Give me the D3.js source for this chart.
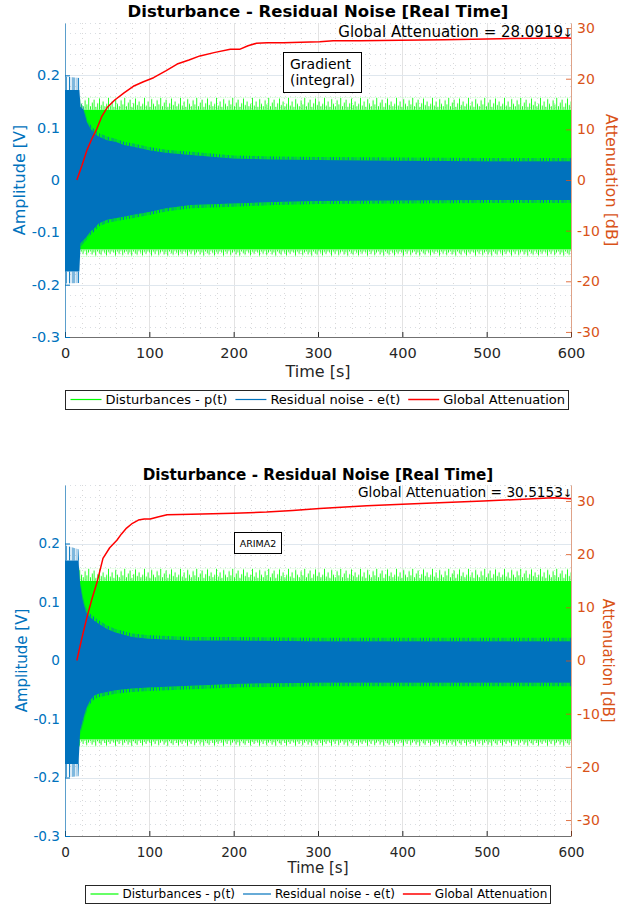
<!DOCTYPE html>
<html><head><meta charset="utf-8">
<script src="https://cdn.jsdelivr.net/npm/d3@7"></script>
<style>body{margin:0;background:#fff} svg{font-family:"DejaVu Sans",sans-serif}</style>
</head><body><svg id="c" width="621" height="909"></svg>
<script>
// ---------- shared labels / ticks ----------
const xTicks=[0,100,200,300,400,500,600];
const xTickLabels=["0","100","200","300","400","500","600"];
const yLeftTicks=[-0.3,-0.2,-0.1,0,0.1,0.2];
const yLeftLabels=["-0.3","-0.2","-0.1","0","0.1","0.2"];
const yRightTicks=[-30,-20,-10,0,10,20,30];
const yRightLabels=["-30","-20","-10","0","10","20","30"];
const seriesNames=["Disturbances - p(t)","Residual noise - e(t)","Global Attenuation"];
const titles=["Disturbance - Residual Noise [Real Time]","Disturbance - Residual Noise [Real Time]"];
const annotations=["Global Attenuation = 28.0919","Global Attenuation = 30.5153"];
const methodLabels=[["Gradient","(integral)"],["ARIMA2"]];
const xLabel="Time [s]", yLeftLabel="Amplitude [V]", yRightLabel="Attenuation [dB]";

// ---------- panel 1 (Gradient) envelopes ----------
const envTime1=[0,17,18.5,22,26,30,35,40,50,60,70,80,100,120,150,200,250,300,400,500,600];
const greenPeakUp1=[0.157,0.157,0.157,0.157,0.157,0.157,0.157,0.157,0.157,0.157,0.157,0.157,0.157,0.157,0.157,0.157,0.157,0.157,0.157,0.157,0.157];
const greenUp1=[0.134,0.134,0.134,0.134,0.134,0.134,0.134,0.134,0.134,0.134,0.134,0.134,0.134,0.134,0.134,0.134,0.134,0.134,0.134,0.134,0.134];
const greenLo1=[-0.133,-0.133,-0.133,-0.133,-0.133,-0.133,-0.133,-0.133,-0.133,-0.133,-0.133,-0.133,-0.133,-0.133,-0.133,-0.133,-0.133,-0.133,-0.133,-0.133,-0.133];
const greenPeakLo1=[-0.146,-0.146,-0.146,-0.146,-0.146,-0.146,-0.146,-0.146,-0.146,-0.146,-0.146,-0.146,-0.146,-0.146,-0.146,-0.146,-0.146,-0.146,-0.146,-0.146,-0.146];
const bluePeakUp1=[0.198,0.195,0.148,0.140,0.118,0.106,0.096,0.090,0.083,0.079,0.073,0.070,0.063,0.058,0.054,0.047,0.045,0.044,0.043,0.042,0.042];
const blueUp1=[0.172,0.172,0.140,0.134,0.111,0.099,0.089,0.083,0.076,0.073,0.067,0.064,0.057,0.052,0.048,0.041,0.039,0.038,0.037,0.036,0.036];
const blueLo1=[-0.175,-0.175,-0.121,-0.115,-0.108,-0.099,-0.092,-0.083,-0.076,-0.073,-0.070,-0.067,-0.061,-0.054,-0.048,-0.045,-0.042,-0.040,-0.039,-0.038,-0.038];
const bluePeakLo1=[-0.198,-0.197,-0.128,-0.121,-0.114,-0.105,-0.098,-0.089,-0.082,-0.079,-0.076,-0.073,-0.067,-0.060,-0.054,-0.051,-0.048,-0.046,-0.045,-0.044,-0.044];
const attTime1=[14,20,26,32,38,43.5,50,59,70,81,93,105,120,133,147,160,178,196,207,217,227,240,259,280,302,318,350,397,450,516,560,595,600];
const att1=[0,2.8,5.9,8.2,10.2,12.5,14.3,15.8,17.2,18.5,19.4,20.2,21.6,22.9,23.7,24.5,25.2,25.8,25.8,26.5,27.0,27.1,27.1,27.2,27.3,27.5,27.5,27.6,27.7,27.9,28.0,28.1,28.0];

// ---------- panel 2 (ARIMA2) envelopes ----------
const envTime2=[0,16,18,21,25,30,35,40,50,60,80,100,150,200,300,400,500,600];
const greenPeakUp2=[0.157,0.157,0.157,0.157,0.157,0.157,0.157,0.157,0.157,0.157,0.157,0.157,0.157,0.157,0.157,0.157,0.157,0.157];
const greenUp2=[0.136,0.136,0.136,0.136,0.136,0.136,0.136,0.136,0.136,0.136,0.136,0.136,0.136,0.136,0.136,0.136,0.136,0.136];
const greenLo2=[-0.135,-0.135,-0.135,-0.135,-0.135,-0.135,-0.135,-0.135,-0.135,-0.135,-0.135,-0.135,-0.135,-0.135,-0.135,-0.135,-0.135,-0.135];
const greenPeakLo2=[-0.147,-0.147,-0.147,-0.147,-0.147,-0.147,-0.147,-0.147,-0.147,-0.147,-0.147,-0.147,-0.147,-0.147,-0.147,-0.147,-0.147,-0.147];
const bluePeakUp2=[0.197,0.190,0.138,0.110,0.090,0.080,0.074,0.069,0.060,0.054,0.046,0.043,0.040,0.040,0.039,0.039,0.039,0.039];
const blueUp2=[0.171,0.171,0.131,0.103,0.083,0.074,0.068,0.063,0.054,0.048,0.040,0.037,0.034,0.034,0.033,0.033,0.033,0.033];
const blueLo2=[-0.177,-0.177,-0.120,-0.103,-0.083,-0.068,-0.060,-0.057,-0.054,-0.051,-0.048,-0.046,-0.043,-0.040,-0.038,-0.038,-0.038,-0.038];
const bluePeakLo2=[-0.200,-0.198,-0.128,-0.110,-0.090,-0.074,-0.066,-0.063,-0.060,-0.057,-0.054,-0.052,-0.049,-0.046,-0.044,-0.044,-0.044,-0.044];
const attTime2=[14,20,26,32,38,45,53,61.5,67,73,80,87,94,101,110,121,150,200,239,270,302,358,400,436,496,555,579,600];
const att2=[0,4.2,8.1,11.6,14.7,19.2,21.2,22.6,23.8,24.9,25.8,26.4,26.6,26.6,27.0,27.4,27.5,27.7,27.9,28.2,28.6,29.1,29.4,29.6,30.0,30.4,30.6,30.4];

// ---------- style ----------
const C_GREEN="#00ff00", C_BLUE="#0072bd", C_RED="#ff0000", C_ORANGE="#d95319", C_AX="#262626";
const spikeProfile=[1,.35,.7,.25,.9,.5,.3,.8,.45,1,.3,.6,.85,.25,.55,.95,.4,.7,.3,.5];
const stripeOpacity=[1,.2,.7,.1,.9,.3,.5,1,.15,.6,.85,.2,.4,.95,.25,.7,.1,.5,.8,.3];

const svg=d3.select("#c");
const defs=svg.append("defs");

const panels=[
 {id:1,top:23,bottom:337,left:65,right:571,rDom:[-31,31],
  env:{t:envTime1,gpu:greenPeakUp1,gu:greenUp1,gl:greenLo1,gpl:greenPeakLo1,bpu:bluePeakUp1,bu:blueUp1,bl:blueLo1,bpl:bluePeakLo1},
  attT:attTime1,att:att1,title:titles[0],anno:annotations[0],method:methodLabels[0],
  f:{tick:14.5,rtick:14,label:16,title:16.5,legend:13,anno:15,method:14},
  titleY:16.7,annoY:36.5,xTickBase:358.3,xLabelY:377.4,yLabX:24.5,yRLabX:606,
  legend:{cx:316.5,cy:399.5,h:19,line:31},
  box:{x:283.5,y:52.5,w:78,h:40,lines:[69,85],tx:290}},
 {id:2,top:485,bottom:836,left:65,right:571,rDom:[-33,33],
  env:{t:envTime2,gpu:greenPeakUp2,gu:greenUp2,gl:greenLo2,gpl:greenPeakLo2,bpu:bluePeakUp2,bu:blueUp2,bl:blueLo2,bpl:bluePeakLo2},
  attT:attTime2,att:att2,title:titles[1],anno:annotations[1],method:methodLabels[1],
  f:{tick:13.6,rtick:14,label:15,title:15.2,legend:12,anno:13.7,method:9.5},
  titleY:480,annoY:497,xTickBase:856.7,xLabelY:872.8,yLabX:27,yRLabX:603,
  legend:{cx:317,cy:894,h:18,line:28},
  box:{x:234.5,y:532.5,w:47,h:21,lines:[546.5],tx:258,center:true}}
];

panels.forEach(P=>{
  const g=svg.append("g");
  const x=d3.scaleLinear().domain([0,600]).range([P.left,P.right]);
  const yL=d3.scaleLinear().domain([-0.3,0.3]).range([P.bottom,P.top]);
  const yR=d3.scaleLinear().domain(P.rDom).range([P.bottom,P.top]);
  const clipId="clip"+P.id;
  defs.append("clipPath").attr("id",clipId).append("rect")
    .attr("x",P.left).attr("y",P.top).attr("width",P.right-P.left).attr("height",P.bottom-P.top);

  // grid
  const grid=g.append("g");
  const minorX=d3.range(0,601,20).filter(v=>v%100!==0);
  const minorY=d3.range(-30,31,2).map(v=>v/100).filter(v=>Math.abs(Math.round(v*100))%10!==0 || v>0.25);
  grid.selectAll(".mx").data(minorX).enter().append("line")
    .attr("x1",d=>Math.round(x(d))+0.5).attr("x2",d=>Math.round(x(d))+0.5).attr("y1",P.top).attr("y2",P.bottom)
    .attr("stroke","#d8d8d8").attr("stroke-dasharray","1,4").attr("stroke-width",1);
  grid.selectAll(".my").data(minorY).enter().append("line")
    .attr("y1",d=>Math.round(yL(d))+0.5).attr("y2",d=>Math.round(yL(d))+0.5).attr("x1",P.left).attr("x2",P.right)
    .attr("stroke","#d8dde2").attr("stroke-dasharray","1,4").attr("stroke-width",1);
  grid.selectAll(".Mx").data(xTicks).enter().append("line")
    .attr("x1",d=>Math.round(x(d))+0.5).attr("x2",d=>Math.round(x(d))+0.5).attr("y1",P.top).attr("y2",P.bottom)
    .attr("stroke","#e3e3e3").attr("stroke-width",1);
  grid.selectAll(".My").data(yLeftTicks).enter().append("line")
    .attr("y1",d=>Math.round(yL(d))+0.5).attr("y2",d=>Math.round(yL(d))+0.5).attr("x1",P.left).attr("x2",P.right)
    .attr("stroke","#dfe7ee").attr("stroke-width",1);

  // data
  const E=P.env;
  const rows=E.t.map((t,i)=>({t,gpu:E.gpu[i],gu:E.gu[i],gl:E.gl[i],gpl:E.gpl[i],bpu:E.bpu[i],bu:E.bu[i],bl:E.bl[i],bpl:E.bpl[i]}));
  const area=(a,b)=>d3.area().x(d=>x(d.t)).y0(d=>yL(d[a])).y1(d=>yL(d[b]));
  const dg=g.append("g").attr("clip-path",`url(#${clipId})`);

  // spike patterns for green fringes
  const fUp=yL(E.gu[0])-yL(E.gpu[0]);
  const fLo=yL(E.gpl[0])-yL(E.gl[0]);
  const tileW=spikeProfile.length*1.8;
  const pu=defs.append("pattern").attr("id","gpu"+P.id).attr("patternUnits","userSpaceOnUse")
    .attr("x",0).attr("y",yL(E.gpu[0])).attr("width",tileW).attr("height",fUp);
  spikeProfile.forEach((f,i)=>pu.append("rect").attr("x",i*1.8).attr("width",1).attr("y",fUp*(1-f)).attr("height",fUp*f).attr("fill",C_GREEN).attr("opacity",0.85));
  const pl=defs.append("pattern").attr("id","gpl"+P.id).attr("patternUnits","userSpaceOnUse")
    .attr("x",7).attr("y",yL(E.gl[0])).attr("width",tileW).attr("height",fLo);
  spikeProfile.forEach((f,i)=>pl.append("rect").attr("x",i*1.8).attr("width",1).attr("y",0).attr("height",fLo*f*0.9).attr("fill",C_GREEN).attr("opacity",0.85));
  // blue fringe stripes
  const bp=defs.append("pattern").attr("id","bst"+P.id).attr("patternUnits","userSpaceOnUse")
    .attr("x",3).attr("y",0).attr("width",stripeOpacity.length*1.5).attr("height",1000);
  stripeOpacity.forEach((o,i)=>bp.append("rect").attr("x",i*1.5).attr("width",1).attr("y",0).attr("height",1000).attr("fill",C_BLUE).attr("opacity",o));

  dg.append("path").datum(rows).attr("d",area("gu","gpu")).attr("fill",`url(#gpu${P.id})`);
  dg.append("path").datum(rows).attr("d",area("gpl","gl")).attr("fill",`url(#gpl${P.id})`);
  dg.append("path").datum(rows).attr("d",area("gl","gu")).attr("fill",C_GREEN);
  dg.append("path").datum(rows).attr("d",area("bu","bpu")).attr("fill",`url(#bst${P.id})`);
  dg.append("path").datum(rows).attr("d",area("bpl","bl")).attr("fill",`url(#bst${P.id})`);
  dg.append("path").datum(rows).attr("d",area("bl","bu")).attr("fill",C_BLUE);

  const attRows=P.attT.map((t,i)=>({t,v:P.att[i]}));
  dg.append("path").datum(attRows).attr("d",d3.line().x(d=>x(d.t)).y(d=>yR(d.v)))
    .attr("fill","none").attr("stroke",C_RED).attr("stroke-width",1.5).attr("stroke-linejoin","round");

  // axes
  const ax=g.append("g").attr("transform",`translate(0,${P.bottom})`)
    .call(d3.axisBottom(x).tickValues(xTicks).tickFormat((d,i)=>xTickLabels[i]).tickSizeInner(-5).tickSizeOuter(0).tickPadding(P.xTickBase-P.bottom-0.71*P.f.tick));
  ax.select(".domain").attr("stroke","#707070");
  ax.selectAll(".tick line").attr("stroke",C_AX);
  ax.selectAll("text").attr("font-size",P.f.tick).attr("fill",C_AX).attr("font-family","DejaVu Sans");

  const al=g.append("g").attr("transform",`translate(${P.left},0)`)
    .call(d3.axisLeft(yL).tickValues(yLeftTicks).tickFormat((d,i)=>yLeftLabels[i]).tickSizeInner(-5).tickSizeOuter(0).tickPadding(5));
  al.select(".domain").attr("stroke",C_BLUE).attr("stroke-opacity",0.6);
  al.selectAll(".tick line").attr("stroke",C_BLUE);
  al.selectAll("text").attr("font-size",P.f.tick).attr("fill",C_BLUE).attr("font-family","DejaVu Sans");

  const ar=g.append("g").attr("transform",`translate(${P.right},0)`)
    .call(d3.axisRight(yR).tickValues(yRightTicks).tickFormat((d,i)=>yRightLabels[i]).tickSizeInner(-5).tickSizeOuter(0).tickPadding(6));
  ar.select(".domain").attr("stroke",C_ORANGE).attr("stroke-opacity",0.45);
  ar.selectAll(".tick line").attr("stroke",C_ORANGE).attr("stroke-opacity",0.8);
  ar.selectAll("text").attr("font-size",P.f.rtick).attr("fill",C_ORANGE).attr("font-family","DejaVu Sans");

  // labels
  g.append("text").attr("x",318).attr("y",P.titleY).attr("text-anchor","middle").attr("font-weight","bold")
    .attr("font-size",P.f.title).attr("fill","#000").text(P.title);
  g.append("text").attr("x",(P.left+P.right)/2).attr("y",P.xLabelY).attr("text-anchor","middle")
    .attr("font-size",P.f.label).attr("fill",C_AX).text(xLabel);
  g.append("text").attr("transform",`translate(${P.yLabX},${(P.top+P.bottom)/2}) rotate(-90)`).attr("text-anchor","middle")
    .attr("font-size",P.f.label).attr("fill",C_BLUE).text(yLeftLabel);
  g.append("text").attr("transform",`translate(${P.yRLabX},${(P.top+P.bottom)/2}) rotate(90)`).attr("text-anchor","middle")
    .attr("font-size",P.f.label).attr("fill",C_ORANGE).text(yRightLabel);

  // annotation
  g.append("text").attr("x",P.right-8).attr("y",P.annoY).attr("text-anchor","end")
    .attr("font-size",P.f.anno).attr("fill","#000").text(P.anno);
  g.append("text").attr("x",P.right-3.5).attr("y",P.annoY).attr("text-anchor","middle")
    .attr("font-size",P.f.anno*0.8).attr("fill","#000").text("↓");

  // method box
  const B=P.box;
  g.append("rect").attr("x",B.x).attr("y",B.y).attr("width",B.w).attr("height",B.h)
    .attr("fill","#fff").attr("stroke","#000").attr("stroke-width",1);
  P.method.forEach((s,i)=>g.append("text").attr("x",B.center?B.x+B.w/2:B.tx).attr("y",B.lines[i])
    .attr("text-anchor",B.center?"middle":"start").attr("font-size",P.f.method).attr("fill","#000").text(s));

  // legend
  const L=P.legend;
  const lg=g.append("g");
  const colors=[C_GREEN,C_BLUE,C_RED];
  const tmp=lg.append("text").attr("font-size",P.f.legend);
  const widths=seriesNames.map(s=>{tmp.text(s);return tmp.node().getComputedTextLength();});
  tmp.remove();
  const pad=4, gapLT=4, gapItem=8;
  const total=pad*2+seriesNames.reduce((a,s,i)=>a+L.line+gapLT+widths[i],0)+gapItem*2;
  const bx=Math.round(L.cx-total/2)+0.5;
  lg.append("rect").attr("x",bx).attr("y",Math.round(L.cy-L.h/2)+0.5).attr("width",Math.round(total)).attr("height",L.h)
    .attr("fill","#fff").attr("stroke","#262626").attr("stroke-width",1);
  let cx=bx+pad+1;
  seriesNames.forEach((s,i)=>{
    lg.append("line").attr("x1",cx).attr("x2",cx+L.line).attr("y1",L.cy).attr("y2",L.cy)
      .attr("stroke",colors[i]).attr("stroke-width",i===2?1.5:1.2);
    cx+=L.line+gapLT;
    lg.append("text").attr("x",cx).attr("y",L.cy+0.36*P.f.legend).attr("font-size",P.f.legend).attr("fill","#000").text(s);
    cx+=widths[i]+gapItem;
  });
});
</script></body></html>
